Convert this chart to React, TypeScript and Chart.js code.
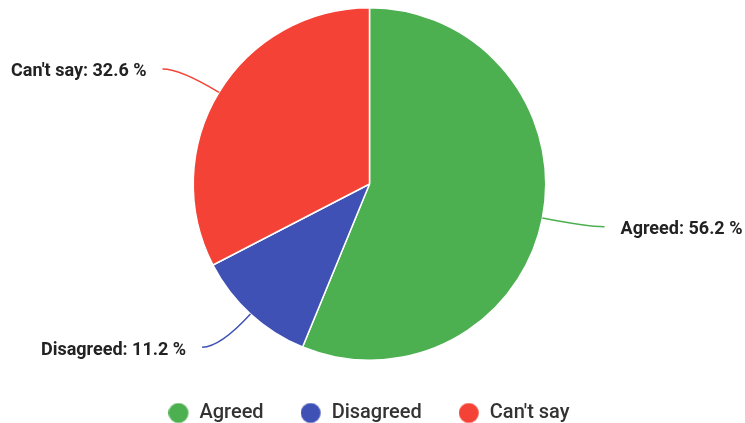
import React, { useEffect, useRef } from "react";
import { Chart, registerables } from "chart.js";

Chart.register(...registerables);

const categories = ["Agreed", "Disagreed", "Can't say"];
const values = [56.2, 11.2, 32.6];
const colors = ["#4CAF50", "#3F51B5", "#F44336"];
const unit = " %";

function makeDot(color: string) {
  const c = document.createElement("canvas");
  c.width = 22;
  c.height = 21;
  const g = c.getContext("2d")!;
  g.fillStyle = color;
  g.beginPath();
  g.arc(10, 10.5, 10, 0, Math.PI * 2);
  g.fill();
  return c;
}

const outLabels = {
  id: "outLabels",
  afterDatasetsDraw(chart: any) {
    const ctx = chart.ctx;
    const meta = chart.getDatasetMeta(0);
    meta.data.forEach((arc: any, i: number) => {
      const { x, y, startAngle, endAngle, outerRadius } = arc.getProps(
        ["x", "y", "startAngle", "endAngle", "outerRadius"],
        true
      );
      const a = (startAngle + endAngle) / 2;
      const cos = Math.cos(a);
      const sin = Math.sin(a);
      const sx = x + outerRadius * cos;
      const sy = y + outerRadius * sin;
      const cx = x + (outerRadius + 45) * cos;
      const cy = y + (outerRadius + 45) * sin;
      const side = cos >= 0 ? 1 : -1;
      const ex = cx + 18 * side;
      const ey = cy;
      ctx.save();
      ctx.strokeStyle = colors[i];
      ctx.lineWidth = 1.5;
      ctx.beginPath();
      ctx.moveTo(sx, sy);
      ctx.quadraticCurveTo(cx, cy, ex, ey);
      ctx.stroke();
      ctx.font = "bold 18px Roboto";
      ctx.fillStyle = "#222222";
      ctx.textBaseline = "middle";
      ctx.textAlign = side > 0 ? "left" : "right";
      ctx.fillText(`${categories[i]}: ${values[i]}${unit}`, ex + 16 * side, ey + 3);
      ctx.restore();
    });
  },
};

export default function App() {
  const ref = useRef<HTMLCanvasElement>(null);
  useEffect(() => {
    const dots = colors.map(makeDot);
    const chart = new Chart(ref.current!, {
      type: "pie",
      data: {
        labels: categories,
        datasets: [
          {
            data: values,
            backgroundColor: colors,
            borderColor: "#ffffff",
            borderWidth: 1.5,
          },
        ],
      },
      options: {
        animation: false,
        responsive: false,
        devicePixelRatio: 1,
        layout: { padding: { top: 7, bottom: -10, left: 0, right: 6 } },
        plugins: {
          tooltip: { enabled: false },
          legend: {
            position: "bottom",
            title: { display: true, text: "", padding: 0, font: { size: 3.34 } },
            labels: {
              usePointStyle: true,
              padding: 38,
              color: "#333333",
              font: { family: "Roboto", size: 20, weight: "500" },
              generateLabels: () =>
                categories.map((c, i) => ({
                  text: c,
                  fillStyle: colors[i],
                  strokeStyle: colors[i],
                  lineWidth: 0,
                  pointStyle: dots[i],
                  hidden: false,
                  index: i,
                  fontColor: "#333333",
                })),
            },
          },
        },
      },
      plugins: [outLabels],
    });
    return () => chart.destroy();
  }, []);
  return (
    <div style={{ position: "fixed", left: 0, top: 0, width: 745, height: 423, background: "#fff" }}>
      <canvas ref={ref} width={745} height={423} style={{ display: "block" }} />
    </div>
  );
}
